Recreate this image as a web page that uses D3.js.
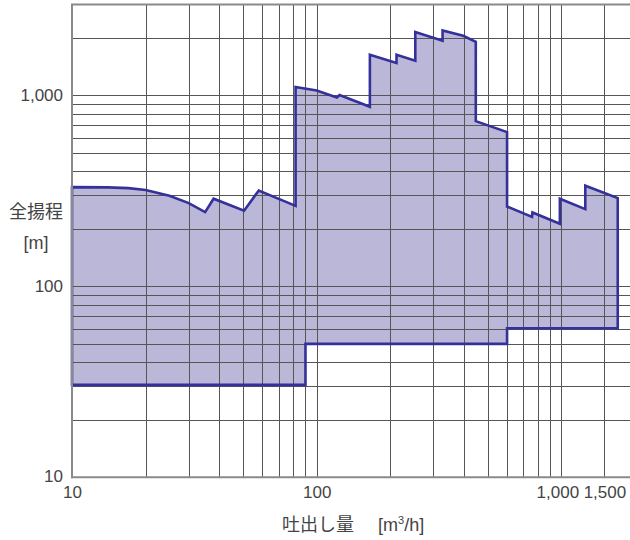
<!DOCTYPE html>
<html><head><meta charset="utf-8">
<script src="https://cdn.jsdelivr.net/npm/d3@7"></script>
<style>
html,body{margin:0;padding:0;background:#fff;}
svg{display:block;font-family:"Noto Sans CJK JP","Noto Sans",sans-serif;}
</style></head>
<body>
<svg id="chart" width="630" height="540"></svg>
<script>
// Operating range outline (flow m3/h, head m), traced clockwise
const outlineQ = [10, 14, 17, 20, 25, 30, 35, 37.9, 50.5, 58, 82, 82, 100, 121, 124, 165, 165, 212, 212, 253, 253, 327, 327, 397, 447, 447, 600, 600, 759, 762, 986, 986, 1253, 1253, 1700, 1700, 600, 600, 90, 90, 10];
const outlineH = [331, 330, 327, 320, 298, 273, 245, 288, 249, 318, 264, 1107, 1062, 977, 1005, 873, 1633, 1479, 1633, 1520, 2148, 1936, 2193, 2056, 1910, 734, 643, 262, 231, 244, 213, 288, 254, 337, 290, 60.4, 60.4, 50, 50, 30.5, 30.5];

const xTickValues = [10, 100, 1000, 1500];
const xTickLabels = ["10", "100", "1,000", "1,500"];
const yTickValues = [10, 100, 1000];
const yTickLabels = ["10", "100", "1,000"];
const xGrid = [20,30,40,50,60,70,80,90,100,200,300,400,500,600,700,800,900,1000,1500];
const yGrid = [20,30,40,50,60,70,80,90,100,200,300,400,500,600,700,800,900,1000,2000];
const xTitleMain = "吐出し量";
const xTitleUnit = ["[m", "3", "/h]"];
const yTitle = ["全揚程", "[m]"];

const numFont = "'Liberation Sans','Noto Sans',sans-serif";
const svg = d3.select("#chart");
const x = d3.scaleLog().domain([10, 2000]).range([72, 635]);
const y = d3.scaleLog().domain([10, 3000]).range([477.3, 4.4]);

const pts = outlineQ.map((q, i) => [x(q), y(outlineH[i])]);

// fill
svg.append("path")
  .attr("d", d3.line()(pts) + "Z")
  .attr("fill", "#bbb7d9")
  .attr("stroke", "none");

// grid
const g = svg.append("g").attr("stroke", "#555").attr("stroke-width", 1).attr("shape-rendering", "crispEdges");
g.selectAll("line.vx").data(xGrid).enter().append("line")
  .attr("x1", d => Math.round(x(d)) + 0.5).attr("x2", d => Math.round(x(d)) + 0.5)
  .attr("y1", y(3000)).attr("y2", y(10));
g.selectAll("line.hy").data(yGrid).enter().append("line")
  .attr("y1", d => Math.round(y(d)) + 0.5).attr("y2", d => Math.round(y(d)) + 0.5)
  .attr("x1", x(10)).attr("x2", 635);

// outline
svg.append("path")
  .attr("d", d3.line()(pts) + "Z")
  .attr("fill", "none")
  .attr("stroke", "#35319a")
  .attr("stroke-width", 2.6)
  .attr("stroke-linejoin", "miter");

// frame
const f = svg.append("g").attr("stroke", "#8a8a8a").attr("stroke-width", 2).attr("fill", "none");
f.append("line").attr("x1", x(10)).attr("x2", x(10)).attr("y1", y(3000)).attr("y2", y(10) + 1);
f.append("line").attr("x1", x(10) - 1).attr("x2", 635).attr("y1", y(10)).attr("y2", y(10));
f.append("line").attr("x1", x(10) - 1).attr("x2", 635).attr("y1", y(3000)).attr("y2", y(3000));

// axes labels via d3 axes
const xAxis = d3.axisBottom(x).tickValues(xTickValues).tickFormat((d, i) => xTickLabels[i]).tickSize(0).tickPadding(9);
const xg = svg.append("g").attr("transform", `translate(0,${y(10)})`).call(xAxis);
xg.select(".domain").remove();
xg.selectAll("text").attr("font-size", 17).attr("fill", "#444").attr("font-family", numFont);
xg.selectAll(".tick").filter(d => d === 1000).select("text").attr("dx", -4);

const yAxis = d3.axisLeft(y).tickValues(yTickValues).tickFormat((d, i) => yTickLabels[i]).tickSize(0).tickPadding(9);
const yg = svg.append("g").attr("transform", `translate(${x(10)},0)`).call(yAxis);
yg.select(".domain").remove();
yg.selectAll("text").attr("font-size", 17).attr("fill", "#444").attr("font-family", numFont);
yg.selectAll(".tick").filter(d => d === 10).select("text").attr("dy", "0.22em");

// titles
const xt = svg.append("text").attr("x", 282).attr("y", 531).attr("text-anchor", "start")
  .attr("font-size", 18).attr("fill", "#444");
xt.append("tspan").text(xTitleMain);
xt.append("tspan").attr("x", 378).attr("font-family", numFont).text(xTitleUnit[0]);
xt.append("tspan").attr("font-family", numFont).attr("font-size", 11).attr("dy", -7).text(xTitleUnit[1]);
xt.append("tspan").attr("font-family", numFont).attr("dy", 7).text(xTitleUnit[2]);

svg.append("text").attr("x", 36).attr("y", 218).attr("text-anchor", "middle")
  .attr("font-size", 18).attr("fill", "#444").text(yTitle[0]);
svg.append("text").attr("x", 36).attr("y", 249).attr("text-anchor", "middle")
  .attr("font-size", 18).attr("fill", "#444").attr("font-family", numFont).text(yTitle[1]);
</script>
</body></html>
